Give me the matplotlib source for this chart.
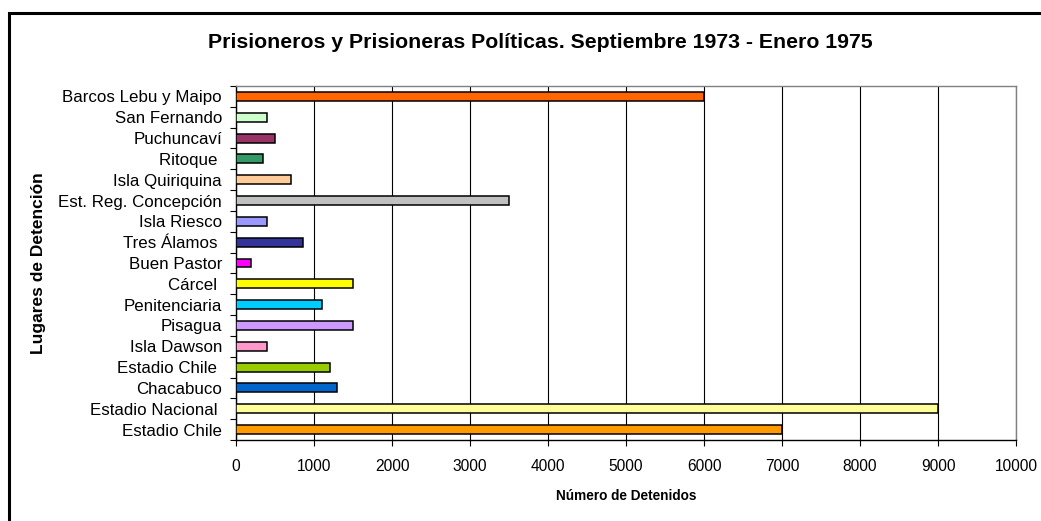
import numpy as np
import matplotlib
matplotlib.use("Agg")
import matplotlib.pyplot as plt
from matplotlib.patches import Rectangle

plt.rcParams['font.family'] = ['Liberation Sans', 'DejaVu Sans']

# categories listed from bottom to top, as in the chart
lugares = ["Estadio Chile", "Estadio Nacional ", "Chacabuco", "Estadio Chile ",
           "Isla Dawson", "Pisagua", "Penitenciaria", "Cárcel ", "Buen Pastor",
           "Tres Álamos ", "Isla Riesco", "Est. Reg. Concepción", "Isla Quiriquina",
           "Ritoque ", "Puchuncaví", "San Fernando", "Barcos Lebu y Maipo"]
detenidos = [7000, 9000, 1300, 1200, 400, 1500, 1100, 1500, 190,
             860, 400, 3500, 700, 340, 500, 400, 6000]
colores = ["#FF9900", "#FFFF99", "#0066CC", "#99CC00", "#FF99CC", "#CC99FF",
           "#00CCFF", "#FFFF00", "#FF00FF", "#333399", "#9999FF", "#C0C0C0",
           "#FFCC99", "#339966", "#993366", "#CCFFCC", "#FF6600"]

fig = plt.figure(figsize=(10.41, 5.21), dpi=100)
ax = fig.add_axes([236/1041, 1 - 440/521, (1016-236)/1041, (440-86)/521])

y = np.arange(len(lugares))
ax.barh(y, detenidos, height=0.43, color=colores, edgecolor="black", linewidth=1.1, zorder=3)

ax.set_xlim(0, 10000)
ax.set_ylim(-0.5, len(lugares) - 0.5)
ax.set_xticks(np.arange(0, 10001, 1000))
ax.set_yticks(y)
ax.set_yticklabels(lugares, fontsize=12.2)
ax.set_yticks(np.arange(-0.5, len(lugares), 1), minor=True)
ax.tick_params(axis="y", which="major", length=0, pad=10)
ax.tick_params(axis="y", which="minor", length=4, width=0.8, direction="out")
ax.tick_params(axis="x", length=4, width=0.8, direction="out", labelsize=11.2, pad=10)

ax.grid(axis="x", color="black", linewidth=0.8, zorder=0)
for s in ["top", "right"]:
    ax.spines[s].set_color("#808080")
    ax.spines[s].set_linewidth(1)
for s in ["left", "bottom"]:
    ax.spines[s].set_color("black")
    ax.spines[s].set_linewidth(1)

fig.text(626/1041, 1 - 496/521, "Número de Detenidos", fontsize=9.8,
         fontweight="bold", ha="center", va="center")
fig.text(39/1041, 1 - 263/521, "Lugares de Detención", rotation=90, fontsize=12.5,
         fontweight="bold", ha="center", va="center")
fig.text(540/1041, 1 - 42/521, "Prisioneros y Prisioneras Políticas. Septiembre 1973 - Enero 1975",
         fontsize=15.3, fontweight="bold", ha="center", va="center")

# outer chart frame
fig.patches.append(Rectangle((9/1041, -0.1), 1.2, 1 - 13/521 + 0.1, transform=fig.transFigure,
                             fill=False, edgecolor="black", linewidth=2.2))

fig.savefig("out.png", dpi=100)
